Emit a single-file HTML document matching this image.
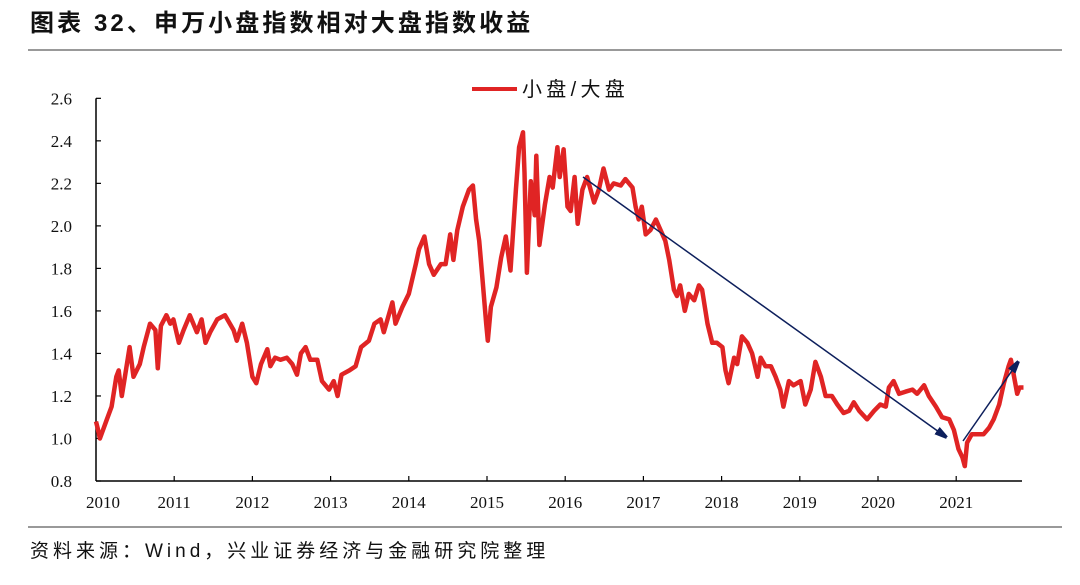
<!DOCTYPE html>
<html><head><meta charset="utf-8"><style>
body{margin:0;background:#fff;width:1080px;height:580px;overflow:hidden;font-family:"Liberation Serif","Noto Serif CJK SC",serif}
</style></head><body>
<svg width="1080" height="580" xmlns="http://www.w3.org/2000/svg">
<text x="30" y="31" font-size="24" letter-spacing="3.1" font-weight="bold" font-family="'Liberation Sans','Noto Sans CJK SC',sans-serif" fill="#111">图表 32、申万小盘指数相对大盘指数收益</text>
<line x1="28" y1="50" x2="1062" y2="50" stroke="#333" stroke-width="1"/>
<line x1="28" y1="527" x2="1062" y2="527" stroke="#333" stroke-width="1"/>
<text x="30" y="557" font-size="19" letter-spacing="4" font-family="'Liberation Sans','Noto Sans CJK SC',sans-serif" fill="#111">资料来源：Wind，兴业证券经济与金融研究院整理</text>
<g>
<line x1="472" y1="89" x2="517" y2="89" stroke="#e02424" stroke-width="4"/>
<text x="522" y="96" font-size="20" letter-spacing="4.3" font-family="'Liberation Sans','Noto Sans CJK SC',sans-serif" fill="#111">小盘/大盘</text>
</g>
<g id="axes"></g>
<g id="plot"></g>
<g>
<defs><marker id="ah2" markerWidth="12" markerHeight="9" refX="11" refY="4.5" orient="auto" markerUnits="userSpaceOnUse"><path d="M0,0 L18,4.5 L0,9 z" fill="#0d1f5c"/></marker></defs>
<line x1="583" y1="177" x2="946" y2="437" stroke="#0d1f5c" stroke-width="1.5" marker-end="url(#ah2)"/>
<line x1="963" y1="441" x2="1018" y2="362" stroke="#0d1f5c" stroke-width="1.5" marker-end="url(#ah2)"/>
</g>
</svg>
<script>
const years=[2010,2011,2012,2013,2014,2015,2016,2017,2018,2019,2020,2021];
const yTicks=[0.8,1.0,1.2,1.4,1.6,1.8,2.0,2.2,2.4,2.6];
const yTickLabels=["0.8","1.0","1.2","1.4","1.6","1.8","2.0","2.2","2.4","2.6"];
const dates=[0,0.02,0.05,0.14,0.20,0.26,0.29,0.33,0.37,0.43,0.48,0.56,0.61,0.69,0.76,0.79,0.83,0.90,0.95,0.99,1.06,1.12,1.20,1.29,1.35,1.40,1.46,1.55,1.65,1.76,1.80,1.87,1.93,2.00,2.05,2.11,2.19,2.23,2.29,2.36,2.44,2.51,2.57,2.62,2.68,2.74,2.83,2.89,2.98,3.04,3.09,3.14,3.24,3.32,3.39,3.49,3.56,3.64,3.68,3.79,3.83,3.92,4.00,4.09,4.13,4.20,4.26,4.32,4.41,4.47,4.53,4.57,4.62,4.69,4.77,4.82,4.86,4.90,4.94,4.99,5.01,5.05,5.12,5.18,5.24,5.30,5.37,5.41,5.46,5.48,5.51,5.56,5.61,5.63,5.67,5.74,5.80,5.84,5.90,5.93,5.98,6.03,6.07,6.12,6.16,6.22,6.28,6.37,6.43,6.49,6.56,6.62,6.71,6.77,6.86,6.90,6.94,6.98,7.03,7.09,7.16,7.22,7.28,7.33,7.39,7.43,7.47,7.53,7.58,7.65,7.71,7.75,7.82,7.88,7.94,8.01,8.05,8.09,8.16,8.20,8.26,8.33,8.39,8.46,8.50,8.56,8.63,8.69,8.75,8.79,8.86,8.92,9.01,9.07,9.14,9.20,9.27,9.33,9.41,9.48,9.56,9.63,9.69,9.76,9.86,9.95,10.03,10.10,10.14,10.20,10.27,10.35,10.44,10.50,10.59,10.65,10.74,10.82,10.91,10.97,11.03,11.08,11.11,11.14,11.20,11.29,11.35,11.42,11.48,11.55,11.61,11.67,11.70,11.73,11.78,11.81,11.86];
const ratio=[1.08,1.05,1.0,1.09,1.15,1.29,1.32,1.2,1.29,1.43,1.29,1.35,1.43,1.54,1.51,1.33,1.53,1.58,1.54,1.56,1.45,1.51,1.58,1.5,1.56,1.45,1.5,1.56,1.58,1.51,1.46,1.54,1.45,1.29,1.26,1.35,1.42,1.34,1.38,1.37,1.38,1.35,1.3,1.4,1.43,1.37,1.37,1.27,1.23,1.27,1.2,1.3,1.32,1.34,1.43,1.46,1.54,1.56,1.5,1.64,1.54,1.62,1.68,1.82,1.89,1.95,1.82,1.77,1.82,1.82,1.96,1.84,1.98,2.09,2.17,2.19,2.03,1.93,1.76,1.54,1.46,1.62,1.71,1.85,1.95,1.79,2.17,2.37,2.44,2.25,1.78,2.21,2.05,2.33,1.91,2.1,2.23,2.18,2.37,2.23,2.36,2.09,2.07,2.23,2.01,2.17,2.23,2.11,2.17,2.27,2.17,2.2,2.19,2.22,2.18,2.09,2.03,2.09,1.96,1.98,2.03,1.98,1.93,1.84,1.7,1.67,1.72,1.6,1.68,1.65,1.72,1.7,1.54,1.45,1.45,1.43,1.32,1.26,1.38,1.35,1.48,1.45,1.4,1.29,1.38,1.34,1.34,1.29,1.23,1.15,1.27,1.25,1.27,1.16,1.23,1.36,1.29,1.2,1.2,1.16,1.12,1.13,1.17,1.13,1.09,1.13,1.16,1.15,1.24,1.27,1.21,1.22,1.23,1.21,1.25,1.2,1.15,1.1,1.09,1.04,0.95,0.91,0.87,0.98,1.02,1.02,1.02,1.05,1.09,1.16,1.26,1.34,1.37,1.31,1.21,1.24,1.24];
const NS="http://www.w3.org/2000/svg";
const X0=96,YEARW=78.2,Y0=481,PERUNIT=212.6;
function xs(t){return X0+t*YEARW;}
function ys(v){return Y0-(v-0.8)*PERUNIT;}
const axes=document.getElementById('axes');
function mk(tag,attrs,parent){const e=document.createElementNS(NS,tag);for(const k in attrs)e.setAttribute(k,attrs[k]);parent.appendChild(e);return e;}
const ya=mk('line',{x1:X0,y1:ys(2.6),x2:X0,y2:Y0,stroke:'#000','stroke-width':1.5},axes);


const xa=mk('line',{x1:X0,y1:Y0,x2:1022,y2:Y0,stroke:'#000','stroke-width':1.5},axes);


yTicks.forEach((v,i)=>{
 const tk=mk('line',{x1:X0,y1:ys(v),x2:X0+5,y2:ys(v),stroke:'#000','stroke-width':1.2},axes);
 
 
 const tl=mk('text',{x:72,y:ys(v)+6,'font-size':17,'text-anchor':'end',fill:'#111'},axes);
 tl.textContent=yTickLabels[i];
 
 
});
years.forEach((yr,i)=>{
 const x=xs(yr-2010);
 if(i>0){const tk=mk('line',{x1:x,y1:Y0,x2:x,y2:Y0-5,stroke:'#000','stroke-width':1.2},axes);
 
 }
 const tl=mk('text',{x:i===0?x+7:x,y:Y0+27,'font-size':17,'text-anchor':'middle',fill:'#111'},axes);
 tl.textContent=String(yr);
 
 
});
const plot=document.getElementById('plot');
let d='';
dates.forEach((t,i)=>{d+=(i?'L':'M')+xs(t).toFixed(1)+','+ys(ratio[i]).toFixed(1);});
const p=mk('path',{d:d,fill:'none',stroke:'#e02424','stroke-width':4.5,'stroke-linejoin':'round'},plot);


</script>
</body></html>
